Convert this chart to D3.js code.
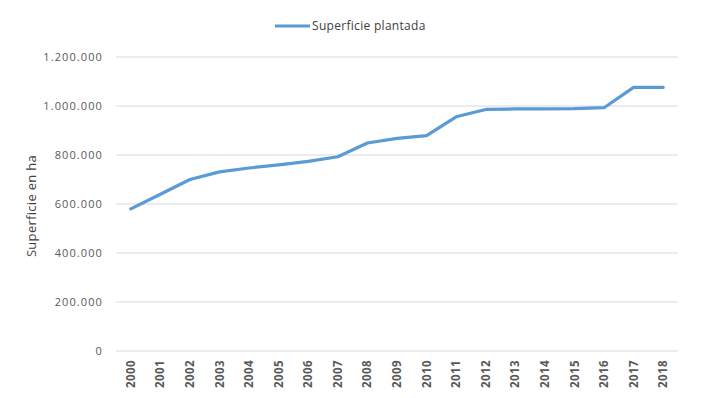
<!DOCTYPE html>
<html><head><meta charset="utf-8">
<script src="https://cdn.jsdelivr.net/npm/d3@7"></script>
<style>body{margin:0;background:#fff}svg{display:block}text{font-family:"Open Sans",sans-serif}</style>
</head><body><svg id="c" width="711" height="398"></svg>
<script>
const years = ["2000","2001","2002","2003","2004","2005","2006","2007","2008","2009","2010","2011","2012","2013","2014","2015","2016","2017","2018"];
const superficie = [580000,640000,700000,731000,747000,760000,774000,793000,849000,868000,879000,956000,986000,988000,988000,989000,993000,1076000,1076000];
const yTicks = [0,200000,400000,600000,800000,1000000,1200000];
const seriesName = "Superficie plantada";
const yTitle = "Superficie en ha";

const svg = d3.select("#c");
const pL = 116, pR = 678, pT = 57, pB = 351;
const x = d3.scaleBand().domain(years).range([pL, pR]);
const y = d3.scaleLinear().domain([0,1200000]).range([pB, pT]);
const fmt = v => d3.format(",")(v).replace(/,/g, ".");

// gridlines
svg.append("g").selectAll("line").data(yTicks).join("line")
  .attr("x1", pL).attr("x2", pR)
  .attr("y1", d => y(d)).attr("y2", d => y(d))
  .attr("stroke", "#d9d9d9").attr("stroke-width", 1);

// y labels
svg.append("g").selectAll("text").data(yTicks).join("text")
  .attr("x", 103).attr("y", d => y(d)).attr("dy", "0.35em")
  .attr("text-anchor", "end").attr("font-size", 11).attr("letter-spacing", 1.1).attr("fill", "#595959")
  .text(fmt);

// y title
svg.append("text").attr("transform", `translate(36,206) rotate(-90)`)
  .attr("text-anchor", "middle").attr("font-size", 13).attr("letter-spacing", 0.3).attr("fill", "#404040").text(yTitle);

// x labels
svg.append("g").selectAll("text").data(years).join("text")
  .attr("transform", d => `translate(${x(d)+x.bandwidth()/2},${pB+9}) rotate(-90)`)
  .attr("text-anchor", "end").attr("dy", "0.35em")
  .attr("font-size", 11.5).attr("font-weight", "bold").attr("letter-spacing", 0.4).attr("fill", "#595959").text(d => d);

// line
const line = d3.line().x((d,i) => x(years[i]) + x.bandwidth()/2).y(d => y(d));
svg.append("path").datum(superficie).attr("d", line)
  .attr("fill", "none").attr("stroke", "#5B9BD5").attr("stroke-width", 3.2)
  .attr("stroke-linejoin", "round").attr("stroke-linecap", "round");

// legend
svg.append("line").attr("x1", 275).attr("x2", 310).attr("y1", 26).attr("y2", 26)
  .attr("stroke", "#5B9BD5").attr("stroke-width", 3.2);
svg.append("text").attr("x", 312).attr("y", 26).attr("dy", "0.35em")
  .attr("font-size", 12).attr("letter-spacing", 0.3).attr("fill", "#404040").text(seriesName);
</script></body></html>
